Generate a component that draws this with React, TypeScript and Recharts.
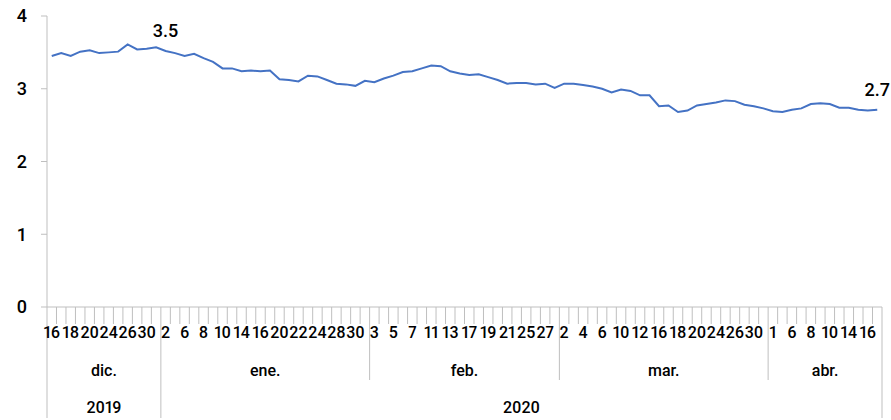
import React from 'react';
import { LineChart, Line, XAxis, YAxis, LabelList } from 'recharts';

// Category days (business days), months and years
const dayLabels = [
  16, 17, 18, 19, 20, 23, 24, 25, 26, 27, 30, 31,
  2, 3, 6, 7, 8, 9, 10, 13, 14, 15, 16, 17, 20, 21, 22, 23, 24, 27, 28, 29, 30, 31,
  3, 4, 5, 6, 7, 10, 11, 12, 13, 14, 17, 18, 19, 20, 21, 24, 25, 26, 27, 28,
  2, 3, 4, 5, 6, 9, 10, 11, 12, 13, 16, 17, 18, 19, 20, 23, 24, 25, 26, 27, 30, 31,
  1, 2, 6, 7, 8, 9, 10, 13, 14, 15, 16, 17,
];
const monthNames = ['dic.', 'ene.', 'feb.', 'mar.', 'abr.'];
const yearNames = ['2019', '2020'];
const monthsInYear = [1, 4];

const rates = [
  3.45, 3.49, 3.45, 3.51, 3.53, 3.49, 3.50, 3.51, 3.61, 3.54, 3.55, 3.57,
  3.52, 3.49, 3.45, 3.48, 3.42, 3.37, 3.28, 3.28, 3.24, 3.25, 3.24, 3.25, 3.13, 3.12, 3.10, 3.18, 3.17, 3.12, 3.07, 3.06, 3.04, 3.11,
  3.09, 3.14, 3.18, 3.23, 3.24, 3.28, 3.32, 3.31, 3.24, 3.21, 3.19, 3.20, 3.16, 3.12, 3.07, 3.08, 3.08, 3.06, 3.07, 3.01,
  3.07, 3.07, 3.05, 3.03, 3.00, 2.95, 2.99, 2.97, 2.91, 2.91, 2.76, 2.77, 2.68, 2.70, 2.77, 2.79, 2.81, 2.84, 2.83, 2.78, 2.76, 2.73,
  2.69, 2.68, 2.71, 2.73, 2.79, 2.80, 2.79, 2.74, 2.74, 2.71, 2.70, 2.71,
];
const labeledIndices = [12, 87];
const yTicks = [0, 1, 2, 3, 4];

// Derived groupings
const monthStarts: number[] = [0];
for (let i = 1; i < dayLabels.length; i++) {
  if (dayLabels[i] < dayLabels[i - 1]) monthStarts.push(i);
}
const N = dayLabels.length;
const monthBounds = [...monthStarts, N];
const monthCenters = monthNames.map((_, k) => (monthBounds[k] + monthBounds[k + 1]) / 2);
const yearBounds: number[] = [0];
{
  let m = 0;
  monthsInYear.forEach((c) => {
    m += c;
    yearBounds.push(monthBounds[m]);
  });
}
const yearCenters = yearNames.map((_, k) => (yearBounds[k] + yearBounds[k + 1]) / 2);

const data = rates.map((v, i) => ({
  x: i + 0.5,
  rate: v,
  labelText: labeledIndices.includes(i) ? v.toFixed(1) : undefined,
}));

const tickSet = new Set<number>();
for (let i = 0; i <= N; i++) tickSet.add(i);
for (let i = 0; i < N; i += 2) tickSet.add(i + 0.5);
monthCenters.forEach((c) => tickSet.add(c));
yearCenters.forEach((c) => tickSet.add(c));
const xTicks = Array.from(tickSet).sort((a, b) => a - b);

const FONT = 'Roboto, "Noto Sans", sans-serif';
const AXIS_COLOR = '#BFBFBF';
const TEXT_COLOR = '#000000';
const textStyle: React.CSSProperties = { fontVariantNumeric: 'proportional-nums', fontWeight: 500 };

const AxisTick = (props: any) => {
  const { x, y, payload } = props;
  const v = payload.value as number;
  const parts: React.ReactNode[] = [];
  if (Number.isInteger(v)) {
    const len = yearBounds.includes(v) ? 111 : monthBounds.includes(v) ? 73 : 17;
    parts.push(<line key="l" x1={x} x2={x} y1={y} y2={y + len} stroke={AXIS_COLOR} strokeWidth={1} />);
  }
  const di = v - 0.5;
  if (Number.isInteger(di) && di % 2 === 0 && di >= 0 && di < N) {
    parts.push(
      <text key="d" x={x} y={y + 30.5} textAnchor="middle" fontSize={16} fontFamily={FONT} fill={TEXT_COLOR} style={textStyle}>
        {dayLabels[di]}
      </text>
    );
  }
  monthCenters.forEach((c, k) => {
    if (c === v)
      parts.push(
        <text key={'m' + k} x={x} y={y + 69} textAnchor="middle" fontSize={16} fontFamily={FONT} fill={TEXT_COLOR} style={textStyle}>
          {monthNames[k]}
        </text>
      );
  });
  yearCenters.forEach((c, k) => {
    if (c === v)
      parts.push(
        <text key={'y' + k} x={x} y={y + 106} textAnchor="middle" fontSize={16} fontFamily={FONT} fill={TEXT_COLOR} style={textStyle}>
          {yearNames[k]}
        </text>
      );
  });
  return <g>{parts}</g>;
};

export default function App() {
  return (
    <div style={{ position: 'absolute', left: 0, top: 0, width: 891, height: 420, background: '#fff' }}>
      <LineChart width={891} height={420} data={data} margin={{ top: 16, right: 9, bottom: 0, left: 0 }}>
        <XAxis
          dataKey="x"
          type="number"
          domain={[0, N]}
          ticks={xTicks}
          interval={0}
          tick={<AxisTick />}
          tickLine={false}
          tickSize={0}
          tickMargin={0}
          axisLine={{ stroke: AXIS_COLOR }}
          height={113}
          allowDecimals
        />
        <YAxis
          type="number"
          domain={[0, 4]}
          ticks={yTicks}
          width={47}
          tickSize={6}
          tickMargin={14}
          tickLine={{ stroke: AXIS_COLOR }}
          axisLine={{ stroke: AXIS_COLOR }}
          tick={{ fontSize: 18, fontFamily: FONT, fill: TEXT_COLOR, fontWeight: 500 }}
        />
        <Line
          type="linear"
          dataKey="rate"
          stroke="#4472C4"
          strokeWidth={2}
          dot={false}
          isAnimationActive={false}
        >
          <LabelList dataKey="labelText" position="top" offset={14} fontSize={18} fontFamily={FONT} fill={TEXT_COLOR} fontWeight={500} />
        </Line>
      </LineChart>
    </div>
  );
}
